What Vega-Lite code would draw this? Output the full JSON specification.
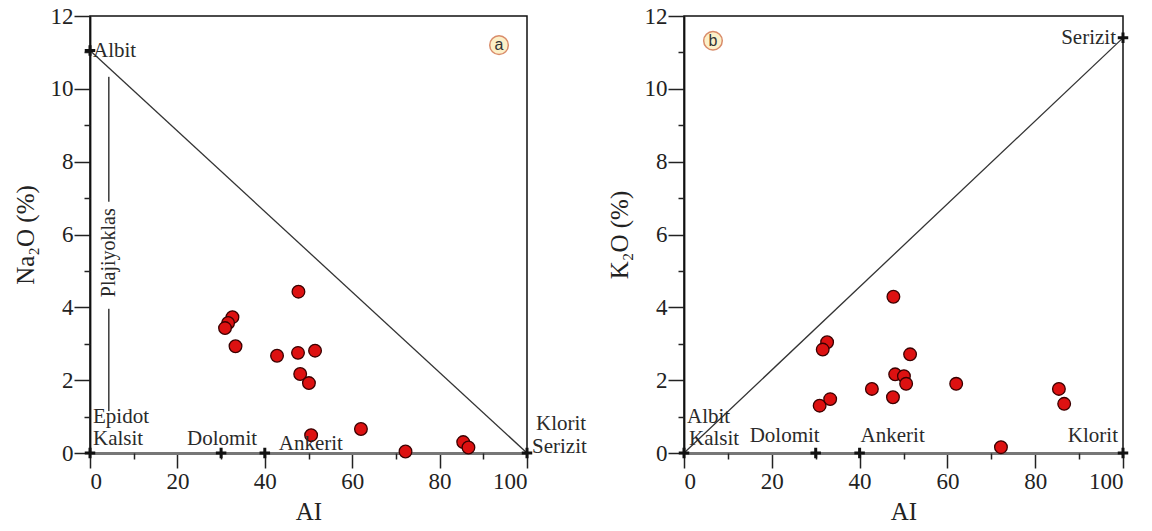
{
  "$schema": "https://vega.github.io/schema/vega-lite/v6.json",
  "background": "white",
  "padding": {"left": 12, "top": 4, "right": 0, "bottom": 0},
  "spacing": 18,
  "config": {
    "font": "Liberation Serif",
    "view": {"stroke": "#111", "strokeWidth": 1.5},
    "axis": {
      "grid": false,
      "labelFont": "Liberation Serif",
      "titleFont": "Liberation Serif",
      "labelFontSize": 23,
      "titleFontSize": 25,
      "titleFontWeight": "normal",
      "labelColor": "#222",
      "titleColor": "#222",
      "tickColor": "#222",
      "tickWidth": 1.5,
      "domainColor": "#111",
      "domainWidth": 1.8
    },
    "text": {"font": "Liberation Serif", "fontSize": 21, "color": "#2a2a2a"}
  },
  "datasets": {
    "samples": [
      {"AI": 47.7, "Na2O": 4.43, "K2O": 4.29},
      {"AI": 32.6, "Na2O": 3.73, "K2O": 3.04},
      {"AI": 31.6, "Na2O": 3.57, "K2O": 2.84},
      {"AI": 30.9, "Na2O": 3.43, "K2O": 1.30},
      {"AI": 33.3, "Na2O": 2.93, "K2O": 1.48},
      {"AI": 42.8, "Na2O": 2.67, "K2O": 1.76},
      {"AI": 47.6, "Na2O": 2.75, "K2O": 1.53},
      {"AI": 51.5, "Na2O": 2.81, "K2O": 2.71},
      {"AI": 48.1, "Na2O": 2.17, "K2O": 2.16},
      {"AI": 50.1, "Na2O": 1.92, "K2O": 2.11},
      {"AI": 50.6, "Na2O": 0.49, "K2O": 1.90},
      {"AI": 62.0, "Na2O": 0.66, "K2O": 1.90},
      {"AI": 72.2, "Na2O": 0.04, "K2O": 0.16},
      {"AI": 85.4, "Na2O": 0.30, "K2O": 1.76},
      {"AI": 86.6, "Na2O": 0.15, "K2O": 1.35}
    ]
  },
  "hconcat": [
    {
      "width": 437,
      "height": 437,
      "resolve": {"axis": {"x": "independent", "y": "independent"}},
      "layer": [
        {
          "layer": [
            {
              "data": {"values": [{"AI": 0, "v": 11.05}, {"AI": 100, "v": 0}]},
              "mark": {"type": "line", "color": "#333", "strokeWidth": 1.3},
              "encoding": {
                "x": {
                  "field": "AI", "type": "quantitative",
                  "scale": {"domain": [0, 100], "nice": false, "zero": false},
                  "axis": {
                    "title": "AI",
                    "orient": "bottom",
                    "values": [0, 20, 40, 60, 80, 100],
                    "tickSize": 15,
                    "labelPadding": 2,
                    "titlePadding": 6,
                    "domainColor": "#777",
                    "domainWidth": 3
                  }
                },
                "y": {
                  "field": "v", "type": "quantitative",
                  "scale": {"domain": [0, 12], "nice": false, "zero": false},
                  "axis": {
                    "title": "Na₂O (%)",
                    "orient": "left",
                    "values": [0, 2, 4, 6, 8, 10, 12],
                    "tickSize": 16,
                    "labelPadding": 1,
                    "titlePadding": 12
                  }
                }
              }
            },
            {
              "data": {"values": [{"AI": 4.3, "v": 10.33, "v2": 6.9}, {"AI": 4.3, "v": 3.96, "v2": 1.15}]},
              "mark": {"type": "rule", "color": "#444", "strokeWidth": 1.6},
              "encoding": {
                "x": {"field": "AI", "type": "quantitative"},
                "y": {"field": "v", "type": "quantitative"},
                "y2": {"field": "v2"}
              }
            },
            {
              "data": {"values": [{"AI": 4.3, "v": 5.5, "t": "Plajiyoklas"}]},
              "mark": {"type": "text", "angle": 270, "align": "center", "baseline": "middle", "fontSize": 20},
              "encoding": {
                "x": {"field": "AI", "type": "quantitative"},
                "y": {"field": "v", "type": "quantitative"},
                "text": {"field": "t"}
              }
            },
            {
              "data": {"name": "samples"},
              "mark": {"type": "point", "shape": "circle", "filled": true, "fill": "#dd1111", "stroke": "#3a0000", "strokeWidth": 1.3, "size": 160, "opacity": 1},
              "encoding": {
                "x": {"field": "AI", "type": "quantitative"},
                "y": {"field": "Na2O", "type": "quantitative"}
              }
            },
            {
              "data": {"values": [{"AI": 0, "v": 11.05, "t": "Albit"}, {"AI": 0, "v": 1, "t": "Epidot"}]},
              "mark": {"type": "text", "align": "left", "baseline": "middle", "dx": 3},
              "encoding": {
                "x": {"field": "AI", "type": "quantitative"},
                "y": {"field": "v", "type": "quantitative"},
                "text": {"field": "t"}
              }
            },
            {
              "data": {"values": [{"AI": 0, "v": 0, "t": "Kalsit"}]},
              "mark": {"type": "text", "align": "left", "baseline": "middle", "dx": 3, "dy": -14},
              "encoding": {
                "x": {"field": "AI", "type": "quantitative"},
                "y": {"field": "v", "type": "quantitative"},
                "text": {"field": "t"}
              }
            },
            {
              "data": {"values": [{"AI": 30, "v": 0, "t": "Dolomit"}]},
              "mark": {"type": "text", "align": "center", "baseline": "middle", "dx": 1, "dy": -14},
              "encoding": {
                "x": {"field": "AI", "type": "quantitative"},
                "y": {"field": "v", "type": "quantitative"},
                "text": {"field": "t"}
              }
            },
            {
              "data": {"values": [{"AI": 40, "v": 0, "t": "Ankerit"}]},
              "mark": {"type": "text", "align": "left", "baseline": "middle", "dx": 14, "dy": -9},
              "encoding": {
                "x": {"field": "AI", "type": "quantitative"},
                "y": {"field": "v", "type": "quantitative"},
                "text": {"field": "t"}
              }
            },
            {
              "data": {"values": [{"AI": 100, "v": 0, "t": "Serizit"}]},
              "mark": {"type": "text", "align": "left", "baseline": "middle", "dx": 5, "dy": -6},
              "encoding": {
                "x": {"field": "AI", "type": "quantitative"},
                "y": {"field": "v", "type": "quantitative"},
                "text": {"field": "t"}
              }
            },
            {
              "data": {"values": [{"AI": 100, "v": 0, "t": "Klorit"}]},
              "mark": {"type": "text", "align": "left", "baseline": "middle", "dx": 9, "dy": -29},
              "encoding": {
                "x": {"field": "AI", "type": "quantitative"},
                "y": {"field": "v", "type": "quantitative"},
                "text": {"field": "t"}
              }
            },
            {
              "data": {"values": [{"AI": 93.6, "v": 11.2}]},
              "mark": {"type": "point", "shape": "circle", "filled": true, "fill": "#fcf0c8", "stroke": "#d98c6a", "strokeWidth": 1.5, "size": 346, "opacity": 1},
              "encoding": {
                "x": {"field": "AI", "type": "quantitative"},
                "y": {"field": "v", "type": "quantitative"}
              }
            },
            {
              "data": {"values": [{"AI": 93.6, "v": 11.2, "t": "a"}]},
              "mark": {"type": "text", "font": "Liberation Sans", "fontSize": 16, "align": "center", "baseline": "middle", "color": "#333"},
              "encoding": {
                "x": {"field": "AI", "type": "quantitative"},
                "y": {"field": "v", "type": "quantitative"},
                "text": {"field": "t"}
              }
            }
          ]
        },
        {
          "data": {"values": [{"AI": 0, "v": 11.05}, {"AI": 0, "v": 0}, {"AI": 30, "v": 0}, {"AI": 40, "v": 0}, {"AI": 100, "v": 0}]},
          "mark": {"type": "point", "shape": "M-1,0H1M0,-1V1", "filled": false, "stroke": "#111", "strokeWidth": 3, "size": 110, "opacity": 1},
          "encoding": {
            "x": {
              "field": "AI", "type": "quantitative",
              "scale": {"domain": [0, 100], "nice": false, "zero": false},
              "axis": {"orient": "bottom", "values": [10, 30, 50, 70, 90], "tickSize": 6, "labels": false, "title": null, "domain": false}
            },
            "y": {
              "field": "v", "type": "quantitative",
              "scale": {"domain": [0, 12], "nice": false, "zero": false},
              "axis": {"orient": "left", "values": [1, 3, 5, 7, 9, 11], "tickSize": 6, "labels": false, "title": null, "domain": false}
            }
          }
        }
      ]
    },
    {
      "width": 439,
      "height": 437,
      "resolve": {"axis": {"x": "independent", "y": "independent"}},
      "layer": [
        {
          "layer": [
            {
              "data": {"values": [{"AI": 0, "v": 0}, {"AI": 100, "v": 11.4}]},
              "mark": {"type": "line", "color": "#333", "strokeWidth": 1.3},
              "encoding": {
                "x": {
                  "field": "AI", "type": "quantitative",
                  "scale": {"domain": [0, 100], "nice": false, "zero": false},
                  "axis": {
                    "title": "AI",
                    "orient": "bottom",
                    "values": [0, 20, 40, 60, 80, 100],
                    "tickSize": 15,
                    "labelPadding": 2,
                    "titlePadding": 6,
                    "domainColor": "#777",
                    "domainWidth": 3
                  }
                },
                "y": {
                  "field": "v", "type": "quantitative",
                  "scale": {"domain": [0, 12], "nice": false, "zero": false},
                  "axis": {
                    "title": "K₂O (%)",
                    "orient": "left",
                    "values": [0, 2, 4, 6, 8, 10, 12],
                    "tickSize": 16,
                    "labelPadding": 1,
                    "titlePadding": 12
                  }
                }
              }
            },
            {
              "data": {"name": "samples"},
              "mark": {"type": "point", "shape": "circle", "filled": true, "fill": "#dd1111", "stroke": "#3a0000", "strokeWidth": 1.3, "size": 160, "opacity": 1},
              "encoding": {
                "x": {"field": "AI", "type": "quantitative"},
                "y": {"field": "K2O", "type": "quantitative"}
              }
            },
            {
              "data": {"values": [{"AI": 0, "v": 1, "t": "Albit"}]},
              "mark": {"type": "text", "align": "left", "baseline": "middle", "dx": 3},
              "encoding": {
                "x": {"field": "AI", "type": "quantitative"},
                "y": {"field": "v", "type": "quantitative"},
                "text": {"field": "t"}
              }
            },
            {
              "data": {"values": [{"AI": 0, "v": 0, "t": "Kalsit"}]},
              "mark": {"type": "text", "align": "left", "baseline": "middle", "dx": 5, "dy": -14},
              "encoding": {
                "x": {"field": "AI", "type": "quantitative"},
                "y": {"field": "v", "type": "quantitative"},
                "text": {"field": "t"}
              }
            },
            {
              "data": {"values": [{"AI": 30, "v": 0, "t": "Dolomit"}]},
              "mark": {"type": "text", "align": "right", "baseline": "middle", "dx": 4, "dy": -17},
              "encoding": {
                "x": {"field": "AI", "type": "quantitative"},
                "y": {"field": "v", "type": "quantitative"},
                "text": {"field": "t"}
              }
            },
            {
              "data": {"values": [{"AI": 40, "v": 0, "t": "Ankerit"}]},
              "mark": {"type": "text", "align": "left", "baseline": "middle", "dx": 1, "dy": -17},
              "encoding": {
                "x": {"field": "AI", "type": "quantitative"},
                "y": {"field": "v", "type": "quantitative"},
                "text": {"field": "t"}
              }
            },
            {
              "data": {"values": [{"AI": 100, "v": 0, "t": "Klorit"}]},
              "mark": {"type": "text", "align": "right", "baseline": "middle", "dx": -5, "dy": -17},
              "encoding": {
                "x": {"field": "AI", "type": "quantitative"},
                "y": {"field": "v", "type": "quantitative"},
                "text": {"field": "t"}
              }
            },
            {
              "data": {"values": [{"AI": 100, "v": 11.4, "t": "Serizit"}]},
              "mark": {"type": "text", "align": "right", "baseline": "middle", "dx": -7, "dy": 0},
              "encoding": {
                "x": {"field": "AI", "type": "quantitative"},
                "y": {"field": "v", "type": "quantitative"},
                "text": {"field": "t"}
              }
            },
            {
              "data": {"values": [{"AI": 6.6, "v": 11.32}]},
              "mark": {"type": "point", "shape": "circle", "filled": true, "fill": "#fcf0c8", "stroke": "#d98c6a", "strokeWidth": 1.5, "size": 346, "opacity": 1},
              "encoding": {
                "x": {"field": "AI", "type": "quantitative"},
                "y": {"field": "v", "type": "quantitative"}
              }
            },
            {
              "data": {"values": [{"AI": 6.6, "v": 11.32, "t": "b"}]},
              "mark": {"type": "text", "font": "Liberation Sans", "fontSize": 16, "align": "center", "baseline": "middle", "color": "#333"},
              "encoding": {
                "x": {"field": "AI", "type": "quantitative"},
                "y": {"field": "v", "type": "quantitative"},
                "text": {"field": "t"}
              }
            }
          ]
        },
        {
          "data": {"values": [{"AI": 0, "v": 0}, {"AI": 30, "v": 0}, {"AI": 40, "v": 0}, {"AI": 100, "v": 0}, {"AI": 100, "v": 11.4}]},
          "mark": {"type": "point", "shape": "M-1,0H1M0,-1V1", "filled": false, "stroke": "#111", "strokeWidth": 3, "size": 110, "opacity": 1},
          "encoding": {
            "x": {
              "field": "AI", "type": "quantitative",
              "scale": {"domain": [0, 100], "nice": false, "zero": false},
              "axis": {"orient": "bottom", "values": [10, 30, 50, 70, 90], "tickSize": 6, "labels": false, "title": null, "domain": false}
            },
            "y": {
              "field": "v", "type": "quantitative",
              "scale": {"domain": [0, 12], "nice": false, "zero": false},
              "axis": {"orient": "left", "values": [1, 3, 5, 7, 9, 11], "tickSize": 6, "labels": false, "title": null, "domain": false}
            }
          }
        }
      ]
    }
  ]
}
